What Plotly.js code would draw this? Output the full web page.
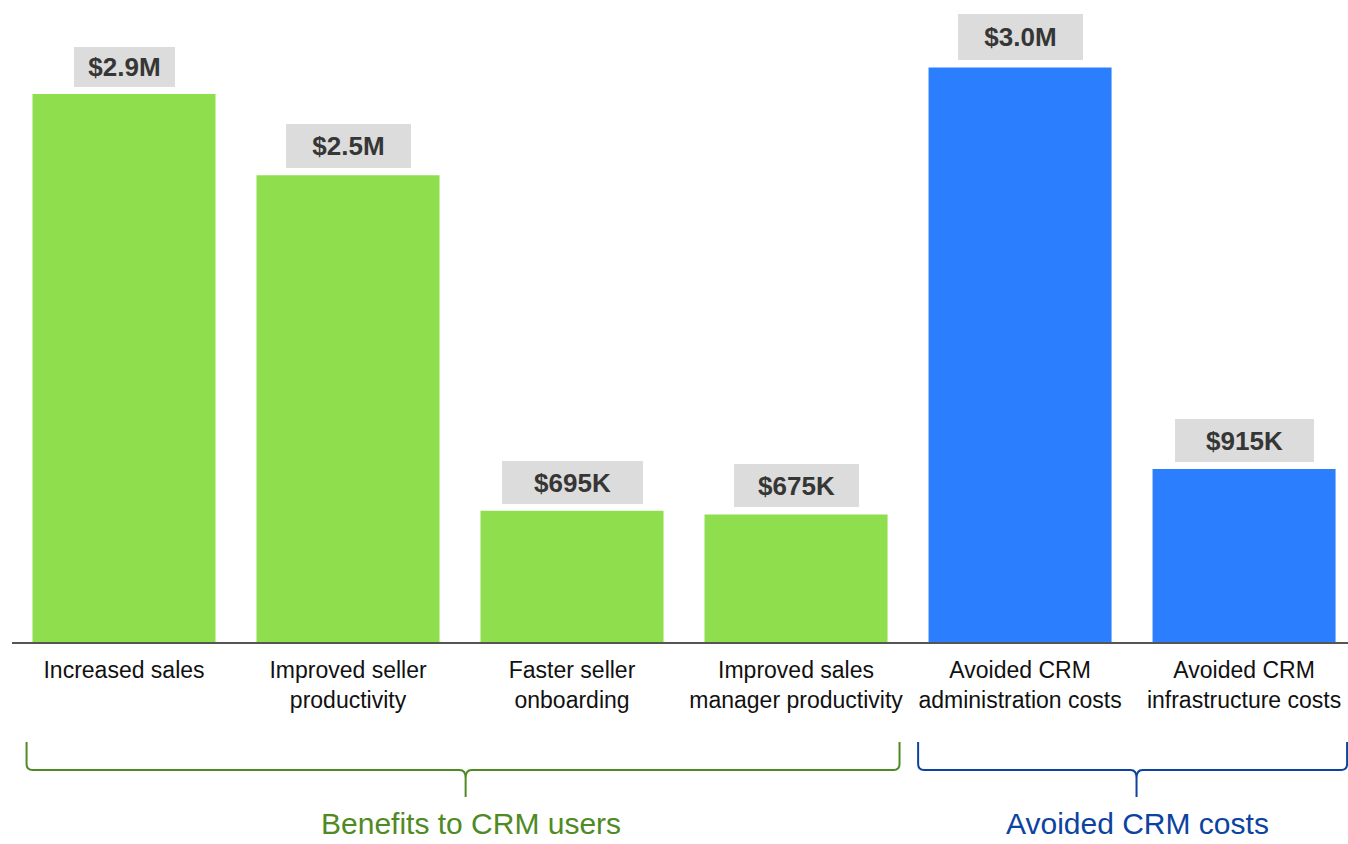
<!DOCTYPE html>
<html>
<head>
<meta charset="utf-8">
<script src="https://cdn.plot.ly/plotly-3.0.1.min.js"></script>
<style>html,body{margin:0;padding:0;background:#fff;}#chart{width:1348px;height:844px;}</style>
</head>
<body>
<div id="chart"></div>
<script>
const categories = [
  'Increased sales',
  'Improved seller<br>productivity',
  'Faster seller<br>onboarding',
  'Improved sales<br>manager productivity',
  'Avoided CRM<br>administration costs',
  'Avoided CRM<br>infrastructure costs'
];
const values = [2.9, 2.47, 0.695, 0.675, 3.04, 0.915];
const valueLabels = ['$2.9M', '$2.5M', '$695K', '$675K', '$3.0M', '$915K'];
const groupNames = ['Benefits to CRM users', 'Avoided CRM costs'];
const groupOf = [0, 0, 0, 0, 1, 1];

// styling
const barColors = ['#8fde4e', '#2b7fff'];
const groupColors = ['#4f8a23', '#0c43a0'];
const boxW = [101, 125, 141, 125, 125, 139];
const boxH = [40, 44, 43, 43, 46, 43];
const braceExtent = [[-0.435, 3.462], [3.545, 5.46]];
const braceTip = [1.525, 4.52];
const groupLabelX = [1.55, 4.525];
const xRange = [-0.5, 5.464];
const plotH = 642;
const font = 'Liberation Sans, Arial, Helvetica, sans-serif';

const toPaperX = c => (c - xRange[0]) / (xRange[1] - xRange[0]);
const toPaperY = py => (plotH - py) / plotH;

const annotations = values.map((v, i) => ({
  x: categories[i], y: v, xref: 'x', yref: 'y',
  text: '<b>' + valueLabels[i] + '</b>',
  showarrow: false, yanchor: 'bottom', yshift: 7,
  bgcolor: '#dcdcdc', borderpad: 0, borderwidth: 0,
  width: boxW[i], height: boxH[i],
  font: {family: font, size: 26, color: '#363636'}
}));

const shapes = [];
braceExtent.forEach((ext, g) => {
  const x0 = toPaperX(ext[0]), x1 = toPaperX(ext[1]);
  const xm = toPaperX(braceTip[g]);
  const rx = 6 / 1336;
  const yTop = toPaperY(742), yMid = toPaperY(770), yTip = toPaperY(797);
  const yc = toPaperY(764), yt1 = toPaperY(778);
  const path = `M ${x0},${yTop} L ${x0},${yc} Q ${x0},${yMid} ${x0 + rx},${yMid} ` +
    `L ${xm - rx},${yMid} Q ${xm},${yMid} ${xm},${yt1} L ${xm},${yTip} ` +
    `M ${xm},${yt1} Q ${xm},${yMid} ${xm + rx},${yMid} ` +
    `L ${x1 - rx},${yMid} Q ${x1},${yMid} ${x1},${yc} L ${x1},${yTop}`;
  shapes.push({type: 'path', xref: 'paper', yref: 'paper', path: path,
    line: {color: groupColors[g], width: 2}});
  annotations.push({
    xref: 'paper', yref: 'paper', x: toPaperX(groupLabelX[g]), y: toPaperY(823),
    text: groupNames[g], showarrow: false, xanchor: 'center', yanchor: 'middle',
    font: {family: font, size: 30, color: groupColors[g]}
  });
});

const trace = {
  type: 'bar', x: categories, y: values,
  marker: {color: groupOf.map(g => barColors[g])},
  hoverinfo: 'skip'
};

const layout = {
  width: 1348, height: 844,
  margin: {l: 12, r: 0, t: 0, b: 844 - plotH},
  paper_bgcolor: '#ffffff', plot_bgcolor: '#ffffff',
  bargap: 0.183,
  showlegend: false,
  xaxis: {
    type: 'category', range: xRange, showgrid: false, zeroline: false,
    showline: true, linecolor: '#555555', linewidth: 1.5,
    ticks: '', ticklabelstandoff: 7,
    tickfont: {family: font, size: 23, color: '#111111'},
    fixedrange: true
  },
  yaxis: {
    range: [0, plotH / 189], showgrid: false, zeroline: false,
    showticklabels: false, showline: false, ticks: '', fixedrange: true
  },
  annotations: annotations,
  shapes: shapes
};

Plotly.newPlot('chart', [trace], layout, {displayModeBar: false, staticPlot: true});
</script>
</body>
</html>
